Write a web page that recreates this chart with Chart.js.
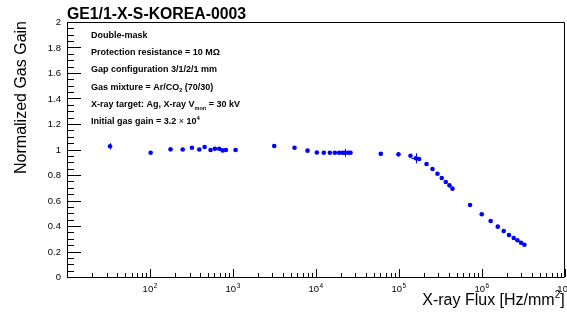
<!DOCTYPE html>
<html>
<head>
<meta charset="utf-8">
<script src="https://cdn.jsdelivr.net/npm/chart.js@4/dist/chart.umd.min.js"></script>
<style>
html,body{margin:0;padding:0;background:#fff;}
#wrap{width:567px;height:323px;position:relative;}
</style>
</head>
<body>
<div id="wrap"><canvas id="c" width="567" height="323"></canvas></div>
<script>
// ---- data ----
const fluxValues = [33, 102, 177, 248, 321, 393, 456, 538, 607, 684, 751, 824, 1077, 3148,
  5530, 7940, 10280, 12470, 14760, 16940, 19100, 20990, 22360, 24500, 26180,
  60670, 99100, 138300, 160300, 175800, 215800, 254800, 292600, 329600, 368300, 408000, 443500,
  722500, 1000000, 1280000, 1560000, 1840000, 2130000, 2430000, 2690000, 2980000, 3270000];
const gainValues = [1.025, 0.975, 1.001, 1.0, 1.014, 1.0, 1.02, 0.996, 1.006, 1.006, 0.993, 0.996, 0.996, 1.027,
  1.014, 0.991, 0.976, 0.975, 0.974, 0.974, 0.974, 0.974, 0.974, 0.974, 0.974,
  0.966, 0.962, 0.951, 0.931, 0.926, 0.886, 0.847, 0.81, 0.776, 0.745, 0.719, 0.693,
  0.565, 0.492, 0.439, 0.395, 0.361, 0.329, 0.306, 0.288, 0.269, 0.253];
const fluxErrors = [0, 0, 0, 0, 0, 0, 0, 0, 0, 0, 0, 0, 0, 0,
  0, 0, 0, 0, 0, 0, 0, 0, 1900, 0, 0,
  0, 0, 0, 18000, 0, 0, 0, 0, 0, 0, 0, 0,
  0, 0, 0, 0, 0, 0, 0, 0, 0, 0];
const gainErrors = [0.025, 0, 0, 0, 0, 0, 0, 0, 0, 0, 0, 0, 0, 0,
  0, 0, 0, 0, 0, 0, 0, 0, 0.03, 0, 0,
  0, 0, 0, 0.04, 0, 0, 0, 0, 0, 0, 0, 0,
  0, 0, 0, 0, 0, 0, 0, 0, 0, 0];

const yTickValues = [0, 0.2, 0.4, 0.6, 0.8, 1, 1.2, 1.4, 1.6, 1.8, 2];
const yTickLabels = ['0', '0.2', '0.4', '0.6', '0.8', '1', '1.2', '1.4', '1.6', '1.8', '2'];
const xTickExponents = [2, 3, 4, 5, 6, 7];

const chartTitle = 'GE1/1-X-S-KOREA-0003';
const xTitle = 'X-ray Flux [Hz/mm';
const xTitleSup = '2';
const yTitle = 'Normalized Gas Gain';

// info lines: segments [text, mode] mode: 'n' bold, 'plain', 'sub', 'sup'
const infoLines = [
  [['Double-mask', 'n']],
  [['Protection resistance = 10 M\u03A9', 'n']],
  [['Gap configuration 3/1/2/1 mm', 'n']],
  [['Gas mixture = Ar/CO', 'n'], ['2', 'sub'], [' (70/30)', 'n']],
  [['X-ray target: Ag, X-ray V', 'n'], ['mon', 'sub'], [' = 30 kV', 'n']],
  [['Initial gas gain = 3.2 ', 'n'], ['\u00D7', 'plain'], [' 10', 'n'], ['4', 'sup']]
];

const FONT = "'Liberation Sans', Arial, Helvetica, sans-serif";

const points = fluxValues.map((x, i) => ({x: x, y: gainValues[i]}));

const rootPlugin = {
  id: 'rootStyle',
  afterDatasetsDraw(chart) {
    const ctx = chart.ctx;
    const xs = chart.scales.x, ys = chart.scales.y;
    ctx.save();
    ctx.strokeStyle = '#0000ff';
    ctx.lineWidth = 1;
    for (let i = 0; i < fluxValues.length; i++) {
      const px = xs.getPixelForValue(fluxValues[i]);
      const py = ys.getPixelForValue(gainValues[i]);
      if (gainErrors[i] > 0) {
        ctx.beginPath();
        ctx.moveTo(Math.round(px) + 0.5, ys.getPixelForValue(gainValues[i] - gainErrors[i]));
        ctx.lineTo(Math.round(px) + 0.5, ys.getPixelForValue(gainValues[i] + gainErrors[i]));
        ctx.stroke();
      }
      if (fluxErrors[i] > 0) {
        ctx.beginPath();
        ctx.moveTo(xs.getPixelForValue(fluxValues[i] - fluxErrors[i]), Math.round(py) + 0.5);
        ctx.lineTo(xs.getPixelForValue(fluxValues[i] + fluxErrors[i]), Math.round(py) + 0.5);
        ctx.stroke();
      }
    }
    ctx.restore();
  },
  afterDraw(chart) {
    const ctx = chart.ctx;
    const xs = chart.scales.x, ys = chart.scales.y;
    const a = chart.chartArea;
    ctx.save();
    ctx.strokeStyle = '#000';
    ctx.lineWidth = 1;
    // frame
    ctx.beginPath();
    ctx.rect(Math.round(a.left) + 0.5, Math.round(a.top) + 0.5, Math.round(a.right - a.left) - 1, Math.round(a.bottom - a.top));
    ctx.stroke();
    // y ticks
    ctx.beginPath();
    for (let k = 0; k <= 40; k++) {
      const v = k * 0.05;
      const py = Math.round(ys.getPixelForValue(v)) + 0.5;
      const len = (k % 4 === 0) ? 14 : 7;
      ctx.moveTo(a.left, py);
      ctx.lineTo(a.left + len, py);
    }
    ctx.stroke();
    // x ticks
    ctx.beginPath();
    for (let d = 1; d <= 7; d++) {
      for (let m = 1; m <= 9; m++) {
        const v = m * Math.pow(10, d);
        if (v > xs.max * 1.0001 || v < xs.min * 0.9999) continue;
        const px = Math.round(xs.getPixelForValue(v)) + 0.5;
        const len = (m === 1) ? 8 : 4;
        ctx.moveTo(px, a.bottom);
        ctx.lineTo(px, a.bottom - len);
      }
    }
    ctx.stroke();
    // y labels
    ctx.fillStyle = '#000';
    ctx.font = '9.5px ' + FONT;
    ctx.textAlign = 'right';
    ctx.textBaseline = 'middle';
    yTickValues.forEach((v, i) => {
      ctx.fillText(yTickLabels[i], a.left - 6, ys.getPixelForValue(v) + 0.5);
    });
    // x labels
    ctx.textBaseline = 'alphabetic';
    ctx.textAlign = 'left';
    xTickExponents.forEach(e => {
      const px = xs.getPixelForValue(Math.pow(10, e));
      ctx.font = '9.5px ' + FONT;
      const wb = ctx.measureText('10').width;
      ctx.font = '6.5px ' + FONT;
      const we = ctx.measureText(String(e)).width;
      const x0 = px - (wb + we + 0.5) / 2;
      ctx.font = '9.5px ' + FONT;
      ctx.fillText('10', x0, 292);
      ctx.font = '6.5px ' + FONT;
      ctx.fillText(String(e), x0 + wb + 0.5, 288);
    });
    // x title
    ctx.font = '10px ' + FONT;
    const wSup = ctx.measureText(xTitleSup).width;
    ctx.font = '16px ' + FONT;
    const wT = ctx.measureText(xTitle).width;
    const wBr = ctx.measureText(']').width;
    const xEnd = a.right;
    const xStart = xEnd - wBr - wSup - wT;
    ctx.fillText(xTitle, xStart, 305);
    ctx.font = '10px ' + FONT;
    ctx.fillText(xTitleSup, xStart + wT, 298);
    ctx.font = '16px ' + FONT;
    ctx.fillText(']', xStart + wT + wSup, 305);
    // y title
    ctx.save();
    ctx.translate(26, a.top - 1);
    ctx.rotate(-Math.PI / 2);
    ctx.font = '16px ' + FONT;
    ctx.textAlign = 'right';
    ctx.fillText(yTitle, 0, 0);
    ctx.restore();
    // chart title
    ctx.font = 'bold 15.8px ' + FONT;
    ctx.textAlign = 'left';
    ctx.fillText(chartTitle, a.left, 19);
    // info lines
    infoLines.forEach((segs, i) => {
      let x = 91;
      const by = 37.8 + i * 17.3;
      segs.forEach(s => {
        const t = s[0], mode = s[1];
        let yy = by;
        if (mode === 'n') ctx.font = 'bold 9px ' + FONT;
        else if (mode === 'plain') ctx.font = '9px ' + FONT;
        else if (mode === 'sub') { ctx.font = 'bold 5.5px ' + FONT; yy = by + 2.5; }
        else if (mode === 'sup') { ctx.font = 'bold 6px ' + FONT; yy = by - 4; }
        ctx.fillText(t, x, yy);
        x += ctx.measureText(t).width;
      });
    });
    ctx.restore();
  }
};

new Chart(document.getElementById('c'), {
  type: 'scatter',
  data: {
    datasets: [{
      data: points,
      backgroundColor: '#0000ff',
      borderColor: '#0000ff',
      borderWidth: 0,
      pointRadius: 2.3,
      pointHoverRadius: 2.3
    }]
  },
  options: {
    responsive: false,
    animation: false,
    events: [],
    layout: {padding: {left: 67, right: 2, top: 22, bottom: 46}},
    plugins: {legend: {display: false}, tooltip: {enabled: false}, title: {display: false}},
    scales: {
      x: {type: 'logarithmic', min: 10, max: 1e7, display: false},
      y: {type: 'linear', min: 0, max: 2, display: false}
    }
  },
  plugins: [rootPlugin]
});
</script>
</body>
</html>
